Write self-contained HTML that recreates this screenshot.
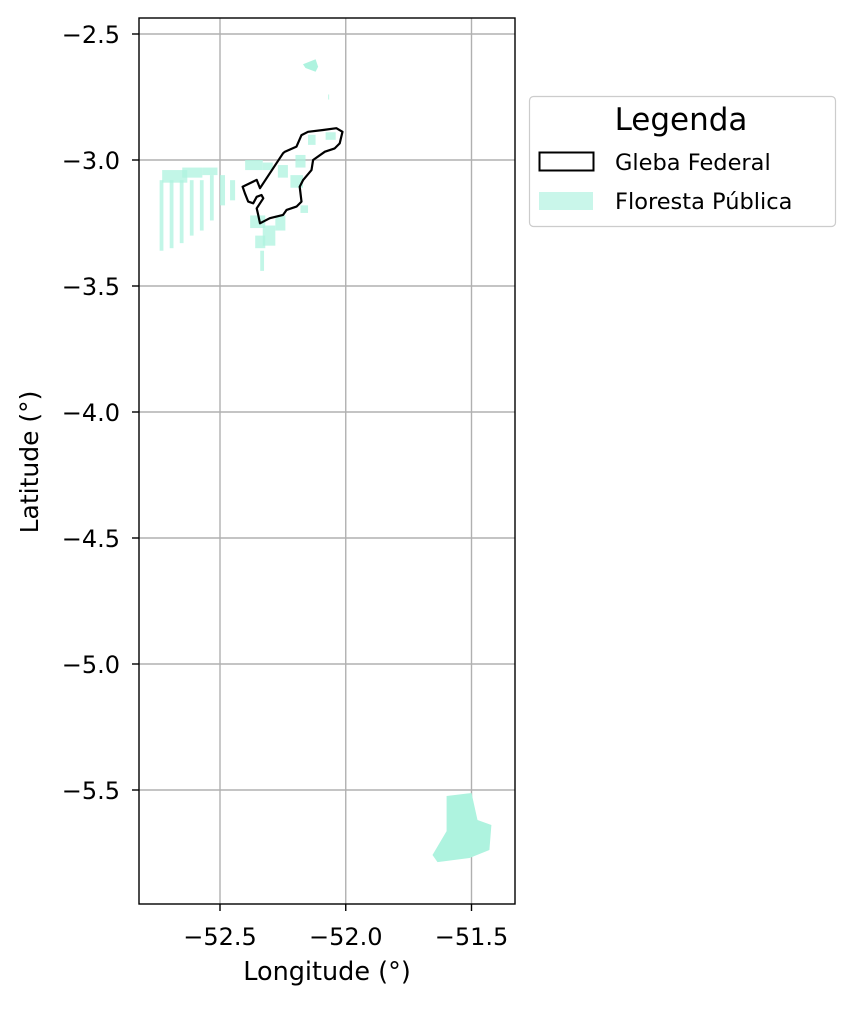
<!DOCTYPE html>
<html><head><meta charset="utf-8"><style>
body{margin:0;background:#fff;}
svg text{font-family:"DejaVu Sans","Liberation Sans",sans-serif;fill:#000;}
</style></head><body>
<svg id="chart" width="854" height="1006" viewBox="0 0 854 1006" xmlns="http://www.w3.org/2000/svg">
<rect width="854" height="1006" fill="#fff"/>
<g id="grid"></g>
<g id="forest"></g>
<g id="gleba"></g>
<rect x="139" y="18" width="376" height="886" fill="none" stroke="#000" stroke-width="1.4"/>
<g id="ticks"></g>
<text x="327" y="980" font-size="25.5" text-anchor="middle">Longitude (°)</text>
<text transform="translate(38,462) rotate(-90)" font-size="25" text-anchor="middle">Latitude (°)</text>
<g>
<rect x="529.5" y="96.5" width="306" height="130" rx="4" fill="#fff" stroke="#ccc" stroke-width="1.2"/>
<text x="681" y="130" font-size="31" text-anchor="middle">Legenda</text>
<rect x="539.5" y="152.5" width="54" height="18" fill="none" stroke="#000" stroke-width="2"/>
<text x="615" y="170" font-size="22.5">Gleba Federal</text>
<rect x="539" y="192" width="54" height="18" fill="#c9f6ea"/>
<text x="615" y="209" font-size="22.5">Floresta Pública</text>
</g>
</svg>
<script>
const xTicks=[-52.5,-52.0,-51.5];
const xTickLabels=["−52.5","−52.0","−51.5"];
const yTicks=[-2.5,-3.0,-3.5,-4.0,-4.5,-5.0,-5.5];
const yTickLabels=["−2.5","−3.0","−3.5","−4.0","−4.5","−5.0","−5.5"];
const glebaLon=[-52.410,-52.354,-52.341,-52.249,-52.242,-52.196,-52.176,-52.150,-52.090,-52.037,-52.013,-52.024,-52.044,-52.083,-52.130,-52.136,-52.169,-52.183,-52.176,-52.196,-52.235,-52.249,-52.302,-52.341,-52.348,-52.354,-52.341,-52.328,-52.335,-52.354,-52.368,-52.388,-52.401];
const glebaLat=[-3.106,-3.079,-3.112,-2.973,-2.967,-2.947,-2.901,-2.888,-2.881,-2.874,-2.888,-2.934,-2.954,-2.967,-3.000,-3.040,-3.079,-3.106,-3.165,-3.185,-3.198,-3.218,-3.231,-3.251,-3.218,-3.192,-3.172,-3.152,-3.139,-3.146,-3.172,-3.165,-3.132];
// forest patches: west lon, north lat, width deg, height deg
const patchLon=[-52.73,-52.65,-52.57,-52.74,-52.70,-52.66,-52.62,-52.58,-52.54,-52.50,-52.46,-52.38,-52.33,-52.36,-52.34,-52.28,-52.40,-52.33,-52.27,-52.15,-52.08,-52.20,-52.22,-52.18,-52.07];
const patchLat=[-3.04,-3.03,-3.03,-3.08,-3.08,-3.08,-3.08,-3.08,-3.06,-3.06,-3.08,-3.22,-3.26,-3.30,-3.36,-3.22,-3.00,-3.01,-3.02,-2.90,-2.89,-2.98,-3.06,-3.18,-2.74];
const patchW=[0.10,0.08,0.06,0.015,0.015,0.015,0.015,0.015,0.015,0.02,0.02,0.06,0.05,0.04,0.015,0.04,0.07,0.04,0.04,0.03,0.04,0.04,0.05,0.03,0.004];
const patchH=[0.05,0.04,0.03,0.28,0.27,0.25,0.22,0.20,0.18,0.12,0.08,0.05,0.08,0.05,0.08,0.06,0.04,0.03,0.05,0.04,0.03,0.05,0.05,0.03,0.02];
const northBlobLon=[-52.17,-52.12,-52.11,-52.12,-52.16];
const northBlobLat=[-2.62,-2.60,-2.63,-2.65,-2.635];
const southBlobLon=[-51.599,-51.500,-51.476,-51.421,-51.429,-51.508,-51.635,-51.655,-51.599];
const southBlobLat=[-5.524,-5.512,-5.619,-5.639,-5.738,-5.770,-5.786,-5.758,-5.663];
const NS="http://www.w3.org/2000/svg";
const X=v=>220+(v+52.5)*251.5;
const Y=v=>160-(v+3.0)*252;
function mk(t,a,p){const e=document.createElementNS(NS,t);for(const k in a)e.setAttribute(k,a[k]);p.appendChild(e);return e;}
const grid=document.getElementById('grid'),ticks=document.getElementById('ticks');
xTicks.forEach((v,i)=>{const x=X(v);
 const g=mk('line',{x1:x,x2:x,y1:18,y2:904,stroke:'#b0b0b0','stroke-width':1.4},grid);
 
 
 const t=mk('line',{x1:x,x2:x,y1:904,y2:911,stroke:'#000','stroke-width':1.4},ticks);
 
 
 const l=mk('text',{x:x,y:945,'font-size':24,'text-anchor':'middle'},ticks);l.textContent=xTickLabels[i];
 
 
});
yTicks.forEach((v,i)=>{const y=Y(v);
 const g=mk('line',{x1:139,x2:515,y1:y,y2:y,stroke:'#b0b0b0','stroke-width':1.4},grid);
 
 
 const t=mk('line',{x1:132,x2:139,y1:y,y2:y,stroke:'#000','stroke-width':1.4},ticks);
 
 
 const l=mk('text',{x:120,y:y+9,'font-size':24,'text-anchor':'end'},ticks);l.textContent=yTickLabels[i];
 
 
});
const forest=document.getElementById('forest');
patchLon.forEach((lo,i)=>{
 const r=mk('rect',{x:X(lo),y:Y(patchLat[i]),width:patchW[i]*251.5,height:patchH[i]*252,fill:'#aef3df','fill-opacity':0.75},forest);
 
 
});
function poly(lon,lat,attrs,name,parent){
 const pts=lon.map((v,i)=>X(v).toFixed(1)+','+Y(lat[i]).toFixed(1)).join(' ');
 attrs.points=pts;const p=mk('polygon',attrs,parent);
 
 
}
poly(northBlobLon,northBlobLat,{fill:'#aef3df'},'forest-north-blob',forest);
poly(southBlobLon,southBlobLat,{fill:'#aef3df'},'forest-south-cluster',forest);
poly(glebaLon,glebaLat,{fill:'none',stroke:'#000','stroke-width':2.2,'stroke-linejoin':'round'},'gleba-federal-outline',document.getElementById('gleba'));
</script>
</body></html>
